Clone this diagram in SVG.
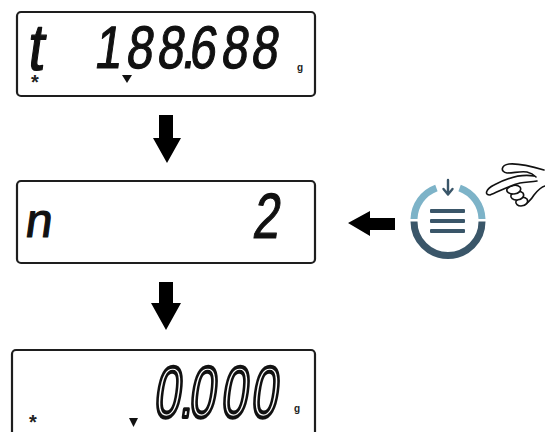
<svg xmlns="http://www.w3.org/2000/svg" width="545" height="432" viewBox="0 0 545 432">
  <style>
    .lcd { fill: #ffffff; stroke: #1e1e1e; stroke-width: 2.2; }
    .seg { font-family: "Liberation Sans", Arial, sans-serif; fill: #111111; stroke: #111111; stroke-width: 1.2; stroke-linejoin: round; }
    .hollow { fill: #ffffff; stroke: #111111; stroke-width: 3.4; }
    .unit { font-family: "Liberation Sans", Arial, sans-serif; font-weight: bold; font-size: 10px; fill: #222222; text-anchor: middle; }
    .star { font-family: "Liberation Sans", Arial, sans-serif; font-weight: bold; font-size: 20px; fill: #222222; text-anchor: middle; }
    .mark { fill: #111111; }
    .step { fill: #000000; }
    .ring-top { fill: none; stroke: #7db3c8; stroke-width: 7; }
    .ring-bot { fill: none; stroke: #3a5669; stroke-width: 7; }
    .glyph { fill: #3a5669; }
    .hand { fill: #ffffff; stroke: #111111; stroke-width: 1.6; stroke-linejoin: round; stroke-linecap: round; }
  </style>

  <!-- Display 1: tare reading -->
  <g id="display-tare">
    <rect class="lcd" x="17" y="12" width="298" height="84" rx="4"/>
    <g transform="translate(0,70) skewX(-8) scale(0.9,1)">
      <text class="seg" x="29" y="0" font-size="66">t</text>
    </g>
    <g transform="translate(0,68) skewX(-8) scale(0.8,1)">
      <text class="seg" font-size="60" x="117 156.3 195 225.8 234.9 275 312.5" y="0">188.688</text>
    </g>
    <text class="star" x="35" y="89">*</text>
    <polygon class="mark" points="122,75 132,75 127,83"/>
    <text class="unit" x="300" y="71">g</text>
  </g>

  <!-- Display 2: count -->
  <g id="display-count">
    <rect class="lcd" x="17" y="181" width="298" height="82" rx="4"/>
    <g transform="translate(0,237) skewX(-8)">
      <text class="seg" x="24" y="0" font-size="48">n</text>
    </g>
    <g transform="translate(251.5,238) skewX(-8) scale(0.75,1)">
      <text class="seg" x="0" y="0" font-size="64">2</text>
    </g>
  </g>

  <!-- Display 3: zero reading -->
  <g id="display-zero">
    <rect class="lcd" x="12" y="350" width="303" height="95" rx="4"/>
    <g transform="translate(0,417) skewX(-8) scale(0.65,1)">
      <text class="seg hollow" font-size="72" vector-effect="non-scaling-stroke" x="235.5 275 289.3 338.5 384.7" y="0">0.000</text>
    </g>
    <text class="star" x="33" y="429">*</text>
    <polygon class="mark" points="129,418 138,418 133.5,427"/>
    <text class="unit" x="297" y="412">g</text>
  </g>

  <!-- Key icon with pointing hand -->
  <g id="key-button">
    <path class="ring-bot" d="M414,221.5 A34,34 0 0 0 482,221.5"/>
    <path class="ring-top" d="M414,219 A34,34 0 0 1 436.4,188"/>
    <path class="ring-top" d="M459.6,188 A34,34 0 0 1 482,219"/>
    <path d="M448,180 L448,194 M443.5,189 L448,194.5 L452.5,189" fill="none" stroke="#3a5669" stroke-width="2.4" stroke-linecap="round" stroke-linejoin="round"/>
    <rect class="glyph" x="430" y="209" width="35" height="4" rx="1"/>
    <rect class="glyph" x="430" y="219" width="35" height="4" rx="1"/>
    <rect class="glyph" x="430" y="229" width="35" height="4" rx="1"/>
  </g>
  <g id="hand">
    <path class="hand" d="M545,186 C541,187 538,190 534,195 C531,200 527,204 522,205"/>
    <path class="hand" d="M516,201 C519,197 524,196 527,199 C529,202 526,206 521,206 C518,206 515,204 516,201 Z"/>
    <path class="hand" d="M511,195 C514,191 520,190 523,193 C525,196 522,200 517,200 C513,200 510,198 511,195 Z"/>
    <path class="hand" d="M507,189 C510,185 517,184 520,187 C522,190 519,194 514,194 C509,194 506,192 507,189 Z"/>
    <path class="hand" d="M534,176 C522,174 507,178 494,185 C486,189 484,195 490,195 C498,192 508,186 520,183 C527,182 532,182 537,181"/>
    <path class="hand" d="M544,170 C534,167 520,163 509,164 C501,165 500,172 507,173 C514,173 520,171 527,172 C531,173 534,175 536,177"/>
  </g>

  <!-- Flow arrows -->
  <g id="connectors">
    <polygon class="step" points="159,115 173,115 173,138 181,138 167,163 153,138 159,138"/>
    <polygon class="step" points="159,282 173,282 173,303 181,303 166,330 151,303 159,303"/>
    <polygon class="step" points="348,223 370,211 370,218 395,218 395,230 370,230 370,236"/>
  </g>
</svg>
